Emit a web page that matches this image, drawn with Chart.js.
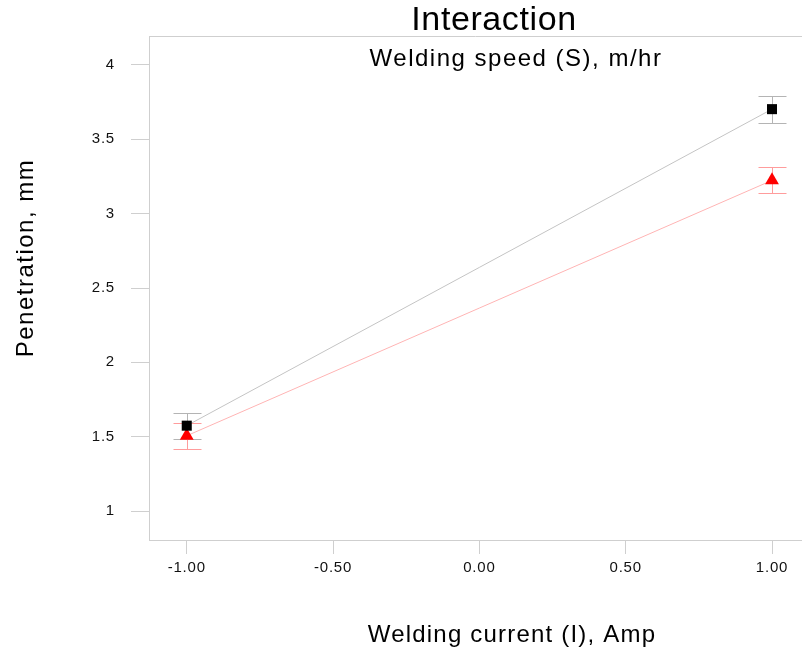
<!DOCTYPE html>
<html>
<head>
<meta charset="utf-8">
<title>Interaction</title>
<script src="https://cdn.jsdelivr.net/npm/chart.js@4/dist/chart.umd.min.js"></script>
<style>
    html, body { margin: 0; padding: 0; background: #fff; }
    #wrap { width: 802px; height: 651px; position: relative; }
</style>
</head>
<body>
<div id="wrap"><canvas id="interactionChart"></canvas></div>
<script>
// Datos
const currentLevels = [-1, 1];
const lowSpeedMean = [1.574, 3.703];
const lowSpeedErr = [0.088, 0.091];
const highSpeedMean = [1.506, 3.224];
const highSpeedErr = [0.088, 0.088];

const xTickValues = [-1, -0.5, 0, 0.5, 1];
const xTickLabels = ['-1.00', '-0.50', '0.00', '0.50', '1.00'];
const yTickValues = [1, 1.5, 2, 2.5, 3, 3.5, 4];
const yTickLabels = ['1', '1.5', '2', '2.5', '3', '3.5', '4'];

const FONT = '"Liberation Sans", Arial, sans-serif';

function toPoints(xs, ys) {
    return xs.map(function(x, i) { return { x: x, y: ys[i] }; });
}

// Barras de error con las escalas de Chart.js
const errorBars = {
    id: 'errorBars',
    beforeDatasetsDraw: function(chart) {
        const ctx = chart.ctx;
        const xs = chart.scales.x;
        const ys = chart.scales.y;
        chart.data.datasets.forEach(function(ds) {
            ctx.save();
            ctx.strokeStyle = ds.errColor;
            ctx.lineWidth = 1;
            ds.data.forEach(function(p, i) {
                const px = Math.round(xs.getPixelForValue(p.x)) + 0.5;
                const top = Math.round(ys.getPixelForValue(p.y + ds.err[i])) + 0.5;
                const bot = Math.round(ys.getPixelForValue(p.y - ds.err[i])) + 0.5;
                ctx.beginPath();
                ctx.moveTo(px, top); ctx.lineTo(px, bot);
                ctx.moveTo(px - 14, top); ctx.lineTo(px + 14, top);
                ctx.moveTo(px - 14, bot); ctx.lineTo(px + 14, bot);
                ctx.stroke();
            });
            ctx.restore();
        });
    }
};

// Textos y borde superior
const chartTexts = {
    id: 'chartTexts',
    beforeDraw: function(chart) {
        chart.ctx.letterSpacing = '0.8px';
    },
    afterDraw: function(chart) {
        const ctx = chart.ctx;
        const area = chart.chartArea;
        ctx.save();
        ctx.strokeStyle = '#cfcfcf';
        ctx.lineWidth = 1;
        ctx.beginPath();
        ctx.moveTo(area.left, area.top + 0.5);
        ctx.lineTo(area.right, area.top + 0.5);
        ctx.stroke();

        ctx.fillStyle = '#000';
        ctx.textAlign = 'center';
        ctx.textBaseline = 'alphabetic';

        ctx.letterSpacing = '0.6px';
        ctx.font = '34px ' + FONT;
        ctx.fillText('Interaction', 494, 30);

        ctx.letterSpacing = '1.5px';
        ctx.font = '24px ' + FONT;
        ctx.fillText('Welding speed (S), m/hr', 516, 66);

        ctx.letterSpacing = '1.2px';
        ctx.fillText('Welding current (I), Amp', 512, 642);

        ctx.letterSpacing = '1.5px';
        ctx.translate(33, 258);
        ctx.rotate(-Math.PI / 2);
        ctx.fillText('Penetration, mm', 0, 0);
        ctx.restore();
    }
};

new Chart(document.getElementById('interactionChart'), {
    type: 'line',
    data: {
        datasets: [{
            label: 'Low speed',
            data: toPoints(currentLevels, lowSpeedMean),
            err: lowSpeedErr,
            errColor: '#b4b4b4',
            borderColor: '#c4c4c4',
            borderWidth: 1,
            pointStyle: 'rect',
            pointRadius: 7.1,
            pointBackgroundColor: '#000',
            pointBorderColor: '#000',
            pointBorderWidth: 0
        }, {
            label: 'High speed',
            data: toPoints(currentLevels, highSpeedMean),
            err: highSpeedErr,
            errColor: '#ff9c9c',
            borderColor: '#ffb4b4',
            borderWidth: 1,
            pointStyle: 'triangle',
            pointRadius: 8,
            pointBackgroundColor: '#ff0000',
            pointBorderColor: '#ff0000',
            pointBorderWidth: 0
        }]
    },
    options: {
        responsive: true,
        maintainAspectRatio: false,
        animation: false,
        layout: { autoPadding: false, padding: { top: 36, left: 0, right: 0, bottom: 0 } },
        plugins: {
            legend: { display: false },
            tooltip: { enabled: false },
            title: { display: false }
        },
        scales: {
            x: {
                type: 'linear',
                min: -1.129,
                max: 1.1025,
                afterFit: function(scale) {
                    scale.height = 111;
                    scale.paddingLeft = 0;
                    scale.paddingRight = 0;
                },
                afterBuildTicks: function(scale) {
                    scale.ticks = xTickValues.map(function(v) { return { value: v }; });
                },
                border: { display: true, color: '#cfcfcf' },
                grid: { drawOnChartArea: false, drawTicks: true, tickLength: 14, color: '#cfcfcf' },
                ticks: {
                    padding: 5,
                    color: '#111',
                    font: { family: FONT, size: 15 },
                    maxRotation: 0,
                    callback: function(value, index) { return xTickLabels[index]; }
                }
            },
            y: {
                min: 0.805,
                max: 4.195,
                afterFit: function(scale) {
                    scale.width = 149;
                    scale.paddingTop = 0;
                    scale.paddingBottom = 0;
                },
                afterBuildTicks: function(scale) {
                    scale.ticks = yTickValues.map(function(v) { return { value: v }; });
                },
                border: { display: true, color: '#cfcfcf' },
                grid: { drawOnChartArea: false, drawTicks: true, tickLength: 18, color: '#cfcfcf' },
                ticks: {
                    padding: 16,
                    color: '#111',
                    font: { family: FONT, size: 15 },
                    callback: function(value, index) { return yTickLabels[index]; }
                }
            }
        }
    },
    plugins: [errorBars, chartTexts]
});
</script>
</body>
</html>
